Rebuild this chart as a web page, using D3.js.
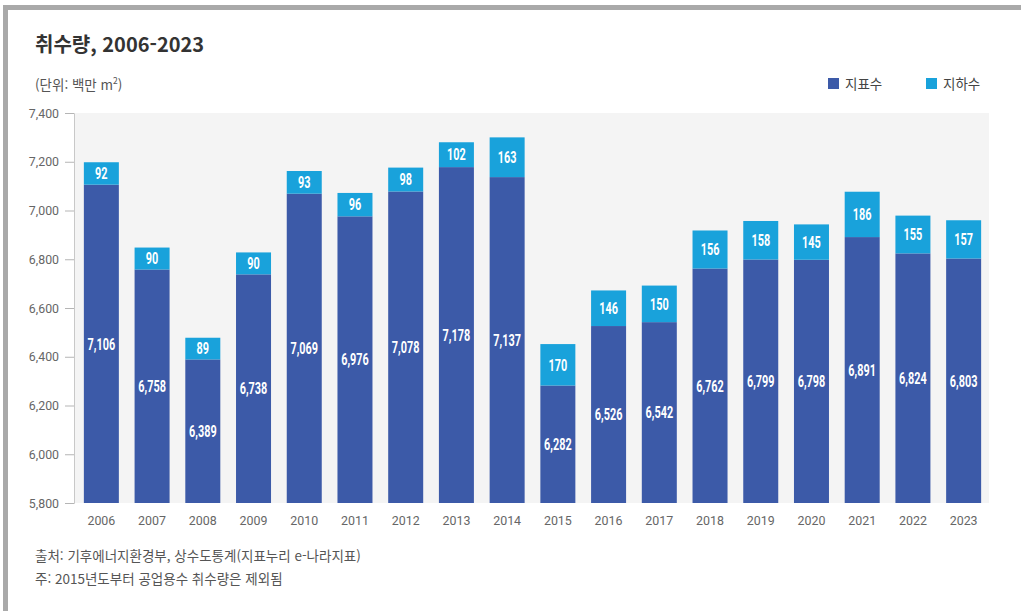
<!DOCTYPE html>
<html lang="ko">
<head>
<meta charset="utf-8">
<script src="https://cdn.jsdelivr.net/npm/d3@7"></script>
<style>
  html, body { margin: 0; padding: 0; background: #fff; }
  svg { display: block; font-family: "Noto Sans CJK KR", "Noto Sans", sans-serif; }
</style>
</head>
<body>
<svg id="chart" width="1021" height="611"></svg>
<script>
// Water intake by source, 2006-2023 (million m³)
const years = ["2006","2007","2008","2009","2010","2011","2012","2013","2014",
               "2015","2016","2017","2018","2019","2020","2021","2022","2023"];
const surfaceWater = [7106, 6758, 6389, 6738, 7069, 6976, 7078, 7178, 7137,
                      6282, 6526, 6542, 6762, 6799, 6798, 6891, 6824, 6803];
const groundWater = [92, 90, 89, 90, 93, 96, 98, 102, 163,
                     170, 146, 150, 156, 158, 145, 186, 155, 157];
const yTicks = [5800, 6000, 6200, 6400, 6600, 6800, 7000, 7200, 7400];
const seriesNames = ["지표수", "지하수"];
const seriesColors = ["#3c5aa8", "#19a2db"];

const svg = d3.select("#chart");

// Frame: grey bands along the top and left edges
svg.append("rect").attr("x", 3).attr("y", 5).attr("width", 1018).attr("height", 5).attr("fill", "#a9a9a9");
svg.append("rect").attr("x", 3).attr("y", 5).attr("width", 5).attr("height", 606).attr("fill", "#a9a9a9");

// Title and unit
svg.append("text").attr("x", 35).attr("y", 52)
  .attr("font-size", 20).attr("font-weight", 700).attr("fill", "#333")
  .text("취수량, 2006-2023");
const unit = svg.append("text").attr("x", 35).attr("y", 90)
  .attr("font-size", 13.5).attr("fill", "#555");
unit.append("tspan").text("(단위: 백만 m");
unit.append("tspan").attr("font-size", 8.5).attr("dy", -6).text("2");
unit.append("tspan").attr("dy", 6).text(")");

// Scales
const x = d3.scaleBand().domain(years).range([76, 989])
  .paddingInner(0.31).paddingOuter(0.155);
const y = d3.scaleLinear().domain([5800, 7400]).range([503, 113]);

// Plot background
svg.append("rect").attr("x", 75).attr("y", y(7400))
  .attr("width", 914).attr("height", y(5800) - y(7400)).attr("fill", "#f4f4f4");

// Narrow text helper: horizontally compress labels
function narrow(sel, sx) {
  sel.each(function () {
    const t = d3.select(this);
    const tx = +t.attr("x"), ty = +t.attr("y");
    t.attr("x", 0).attr("y", 0)
     .attr("transform", `translate(${tx},${ty}) scale(${sx},1)`);
  });
}

// Y axis
const yAxis = svg.append("g").attr("transform", "translate(74,0)")
  .call(d3.axisLeft(y).tickValues(yTicks).tickSize(9).tickPadding(6)
    .tickFormat(d3.format(",")));
yAxis.select(".domain").attr("stroke", "#c8c8c8");
yAxis.selectAll(".tick line").attr("stroke", "#b5b5b5");
yAxis.selectAll(".tick text").attr("fill", "#666").attr("font-size", 13)
  .attr("font-family", "Roboto, sans-serif")
  .attr("transform", "translate(-15,0) scale(0.95,1)").attr("x", 0).attr("text-anchor", "end");

// X axis labels
const xAxis = svg.append("g").attr("transform", `translate(0,${y(5800)})`)
  .call(d3.axisBottom(x).tickSize(0).tickPadding(12));
xAxis.select(".domain").remove();
xAxis.selectAll(".tick text").attr("fill", "#666").attr("font-size", 13.5)
  .attr("font-family", "Roboto, sans-serif")
  .attr("transform", "scale(0.92,1)");

// Stacked bars
const rows = years.map((yr, i) => ({ year: yr, surface: surfaceWater[i], ground: groundWater[i] }));
const bars = svg.append("g").selectAll("g").data(rows).join("g");

bars.append("rect")
  .attr("x", d => x(d.year)).attr("width", x.bandwidth())
  .attr("y", d => y(d.surface)).attr("height", d => y(5800) - y(d.surface))
  .attr("fill", seriesColors[0]);
bars.append("rect")
  .attr("x", d => x(d.year)).attr("width", x.bandwidth())
  .attr("y", d => y(d.surface + d.ground)).attr("height", d => y(d.surface) - y(d.surface + d.ground))
  .attr("fill", seriesColors[1]);

const labelFont = "Roboto, sans-serif";
bars.append("text")
  .attr("x", d => x(d.year) + x.bandwidth() / 2)
  .attr("y", d => (y(d.surface) + y(5800)) / 2)
  .attr("dy", "0.35em").attr("text-anchor", "middle")
  .attr("font-family", labelFont).attr("font-weight", 700).attr("font-size", 16.5)
  .attr("fill", "#fff")
  .text(d => d3.format(",")(d.surface))
  .call(narrow, 0.66);
bars.append("text")
  .attr("x", d => x(d.year) + x.bandwidth() / 2)
  .attr("y", d => (y(d.surface) + y(d.surface + d.ground)) / 2)
  .attr("dy", "0.35em").attr("text-anchor", "middle")
  .attr("font-family", labelFont).attr("font-weight", 700).attr("font-size", 16.5)
  .attr("fill", "#fff")
  .text(d => d.ground)
  .call(narrow, 0.66);

// Legend
const legend = svg.append("g").selectAll("g").data(seriesNames).join("g")
  .attr("transform", (d, i) => `translate(${828 + i * 98},78)`);
legend.append("rect").attr("width", 11).attr("height", 11)
  .attr("fill", (d, i) => seriesColors[i]);
legend.append("text").attr("x", 17).attr("y", 10.5)
  .attr("font-size", 13.5).attr("fill", "#444").text(d => d);

// Source and note
svg.append("text").attr("x", 35).attr("y", 561).attr("font-size", 13.5).attr("fill", "#555")
  .text("출처: 기후에너지환경부, 상수도통계(지표누리 e-나라지표)");
svg.append("text").attr("x", 35).attr("y", 584).attr("font-size", 13.5).attr("fill", "#555")
  .text("주: 2015년도부터 공업용수 취수량은 제외됨");
</script>
</body>
</html>
